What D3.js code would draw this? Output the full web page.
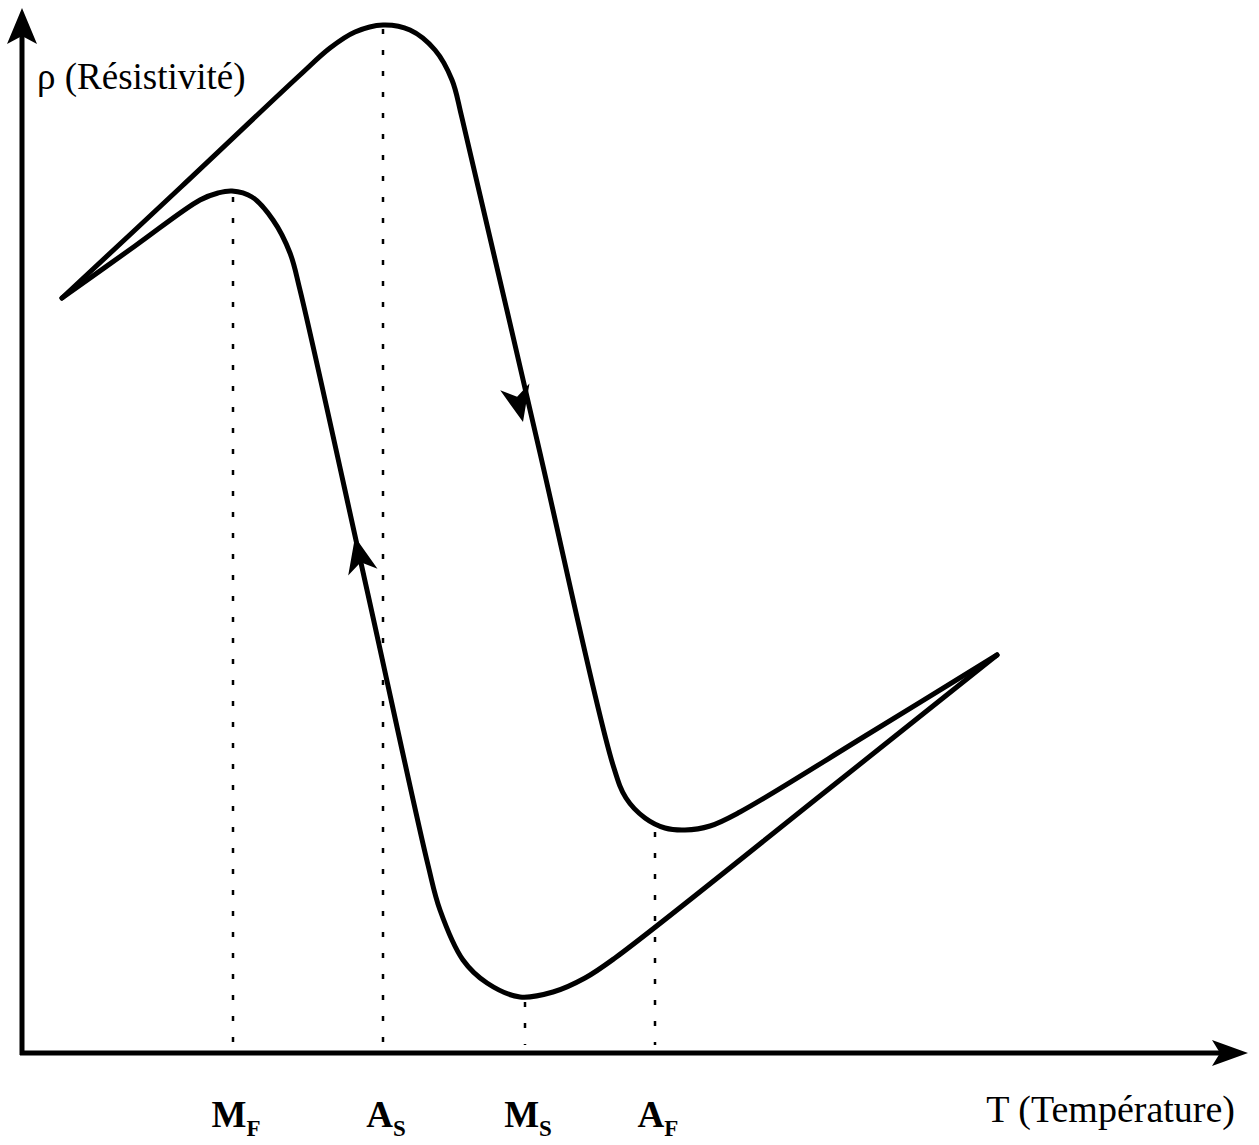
<!DOCTYPE html>
<html>
<head>
<meta charset="utf-8">
<script src="https://cdn.jsdelivr.net/npm/d3@7"></script>
<style>
body { margin: 0; background: #fff; }
svg { display: block; }
</style>
</head>
<body>
<div id="chart"></div>
<script>
'use strict';

// heating branch (upper curve), T and rho in arbitrary units
var heatingT   = [40, 159, 278, 308, 333, 361, 388, 413, 430, 440, 515, 591, 604, 623, 643, 663, 688, 718, 848, 975];
var heatingRho = [755, 866, 978, 1005, 1021, 1028, 1023, 1003, 973, 935, 613, 288, 255, 235, 225, 223, 227, 241, 320, 398];

// cooling branch (lower curve)
var coolingT   = [40, 113, 178, 196, 210, 230, 251, 268, 278, 345, 406, 418, 441, 465, 498, 531, 563, 593, 808, 975];
var coolingRho = [755, 807, 853, 860, 862, 856, 833, 800, 763, 463, 188, 143, 93, 70, 56, 61, 75, 95, 265, 398];

// transformation temperatures and the height where their dotted line stops
var transLabels = ["M", "A", "M", "A"];
var transSubs   = ["F", "S", "S", "F"];
var transT      = [211, 361, 503, 633];
var transTopRho = [860, 1028, 55, 225];

// direction arrows on the branches
var arrowBranch = ["heating", "cooling"];
var arrowT      = [501, 333];
var arrowRho    = [631, 516];

var W = 1259, H = 1145;

var svg = d3.select("#chart").append("svg")
    .attr("width", W)
    .attr("height", H);

var x = d3.scaleLinear().domain([0, 1226]).range([22, 1248]);
var y = d3.scaleLinear().domain([0, 1045]).range([1053, 8]);

var font = "'Liberation Serif', 'Times New Roman', serif";

function arrowHead(tx, ty, ux, uy, len, half, notch) {
    var nx = -uy, ny = ux;
    var bx = tx - len * ux, by = ty - len * uy;
    var p = d3.path();
    p.moveTo(tx, ty);
    p.lineTo(bx + half * nx, by + half * ny);
    p.lineTo(tx - (len - notch) * ux, ty - (len - notch) * uy);
    p.lineTo(bx - half * nx, by - half * ny);
    p.closePath();
    return p.toString();
}

// AXES
svg.append("line")
    .attr("x1", x(0)).attr("y1", y(0) + 2)
    .attr("x2", x(0)).attr("y2", y(1045) + 20)
    .attr("stroke", "#000").attr("stroke-width", 5);
svg.append("path")
    .attr("d", arrowHead(x(0), y(1045), 0, -1, 36, 15, 8))
    .attr("fill", "#000");

svg.append("line")
    .attr("x1", x(0) - 2).attr("y1", y(0))
    .attr("x2", x(1226) - 20).attr("y2", y(0))
    .attr("stroke", "#000").attr("stroke-width", 5);
svg.append("path")
    .attr("d", arrowHead(x(1226), y(0), 1, 0, 36, 13, 8))
    .attr("fill", "#000");

svg.append("text")
    .attr("x", 37).attr("y", 89)
    .attr("font-family", font).attr("font-size", 37)
    .text("ρ (Résistivité)");

svg.append("text")
    .attr("x", 1235).attr("y", 1122)
    .attr("text-anchor", "end")
    .attr("font-family", font).attr("font-size", 38)
    .text("T (Température)");

// DOTTED LINES
var trans = transT.map(function(t, i) {
    return { T: t, top: transTopRho[i], label: transLabels[i], sub: transSubs[i] };
});

svg.selectAll("line.trans")
    .data(trans)
    .enter().append("line")
    .attr("class", "trans")
    .attr("x1", function(d) { return x(d.T); })
    .attr("x2", function(d) { return x(d.T); })
    .attr("y1", function(d) { return y(d.top) + 4; })
    .attr("y2", y(8))
    .attr("stroke", "#000")
    .attr("stroke-width", 2.5)
    .attr("stroke-dasharray", "5,16");

var labels = svg.selectAll("text.trans")
    .data(trans)
    .enter().append("text")
    .attr("class", "trans")
    .attr("x", function(d) { return x(d.T) + 3; })
    .attr("y", 1127)
    .attr("text-anchor", "middle")
    .attr("font-family", font)
    .attr("font-weight", "bold")
    .attr("font-size", 37);
labels.append("tspan").text(function(d) { return d.label; });
labels.append("tspan")
    .attr("font-size", 23)
    .attr("dy", 9)
    .text(function(d) { return d.sub; });

// CURVES
var line = d3.line()
    .x(function(d) { return x(d[0]); })
    .y(function(d) { return y(d[1]); })
    .curve(d3.curveCatmullRom.alpha(0.5));

var branches = {
    heating: d3.zip(heatingT, heatingRho),
    cooling: d3.zip(coolingT, coolingRho)
};

svg.selectAll("path.branch")
    .data(["heating", "cooling"])
    .enter().append("path")
    .attr("class", "branch")
    .attr("d", function(k) { return line(branches[k]); })
    .attr("fill", "none")
    .attr("stroke", "#000")
    .attr("stroke-width", 5)
    .attr("stroke-linecap", "round")
    .attr("stroke-linejoin", "round");

// ARROWS: heating runs towards high T, cooling back towards low T
arrowT.forEach(function(t, i) {
    var pts = branches[arrowBranch[i]];
    var j = 0;
    while (j < pts.length - 2 && pts[j + 1][0] < t) j++;
    var a = [x(pts[j][0]), y(pts[j][1])], b = [x(pts[j + 1][0]), y(pts[j + 1][1])];
    var dx = b[0] - a[0], dy = b[1] - a[1];
    if (arrowBranch[i] === "cooling") { dx = -dx; dy = -dy; }
    var n = Math.sqrt(dx * dx + dy * dy);
    svg.append("path")
        .attr("d", arrowHead(x(t), y(arrowRho[i]), dx / n, dy / n, 36, 15, 10))
        .attr("fill", "#000");
});
</script>
</body>
</html>
